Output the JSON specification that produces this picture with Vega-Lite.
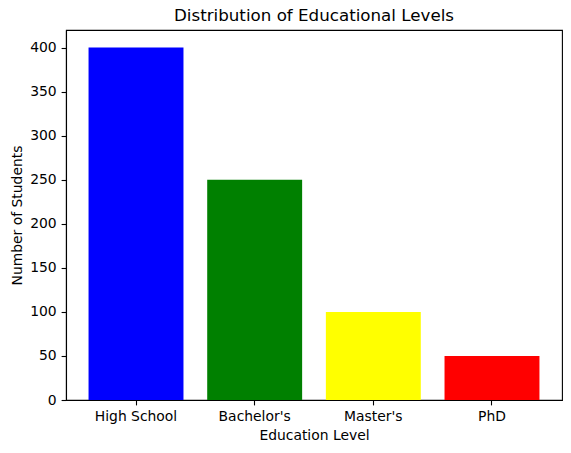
{
  "$schema": "https://vega.github.io/schema/vega-lite/v6.json",
  "autosize": {"type": "none"},
  "padding": {"left": 66, "top": 30, "right": 9, "bottom": 53},
  "width": 496,
  "height": 370,
  "background": "white",
  "title": {"text": "Distribution of Educational Levels", "font": "DejaVu Sans", "fontSize": 16.7, "fontWeight": "normal", "color": "black", "offset": 5, "anchor": "middle"},
  "config": {
    "view": {"stroke": "black", "strokeWidth": 1.1},
    "axis": {
      "labelFont": "DejaVu Sans", "labelFontSize": 13.9, "labelColor": "black",
      "titleFont": "DejaVu Sans", "titleFontSize": 13.9, "titleFontWeight": "normal", "titleColor": "black",
      "domainColor": "black", "domainWidth": 1.1, "tickColor": "black", "tickWidth": 1.1, "tickSize": 4.9,
      "labelPadding": 4.9, "grid": false, "titlePadding": 5
    }
  },
  "data": {"values": [
    {"level": "High School", "students": 400, "color": "#0000ff"},
    {"level": "Bachelor's", "students": 250, "color": "#008000"},
    {"level": "Master's", "students": 100, "color": "#ffff00"},
    {"level": "PhD", "students": 50, "color": "#ff0000"}
  ]},
  "mark": {"type": "bar"},
  "encoding": {
    "x": {"field": "level", "type": "nominal", "sort": null, "title": "Education Level",
      "scale": {"paddingInner": 0.2, "paddingOuter": 0.19},
      "axis": {"labelAngle": 0}},
    "y": {"field": "students", "type": "quantitative", "title": "Number of Students",
      "scale": {"domain": [0, 420], "nice": false, "zero": true},
      "axis": {"values": [0, 50, 100, 150, 200, 250, 300, 350, 400]}},
    "color": {"field": "color", "type": "nominal", "scale": null, "legend": null}
  }
}
